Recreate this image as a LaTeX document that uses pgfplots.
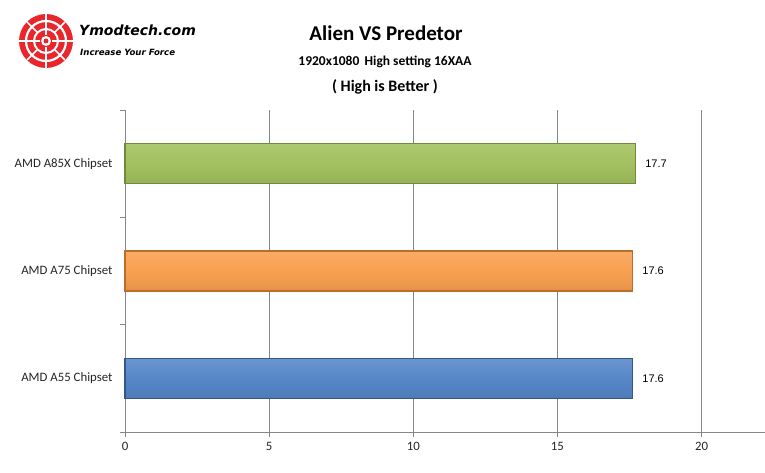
\documentclass[border=0pt]{standalone}
\usepackage{pgfplots}
\pgfplotsset{compat=1.18}
\usepackage{fontspec}
\setmainfont{Carlito}
\newfontfamily\valfont{Liberation Sans}
\newfontfamily\logofont{DejaVu Sans}
\definecolor{gA}{HTML}{A2C15E}
\definecolor{gAd}{HTML}{6E8A3A}
\definecolor{oA}{HTML}{F9A050}
\definecolor{oAd}{HTML}{B86F2E}
\definecolor{bA}{HTML}{5687C8}
\definecolor{bAd}{HTML}{34578A}
\definecolor{axg}{HTML}{868686}
\definecolor{logored}{HTML}{E8262B}
\begin{document}
\begin{tikzpicture}
\path[use as bounding box] (0pt,0pt) rectangle (765pt,472pt);
\fill[white] (0pt,0pt) rectangle (765pt,472pt);
% logo
\begin{scope}[shift={(46pt,431pt)}]
\fill[logored] (0pt,0pt) circle (27pt);
\draw[white,line width=2.2pt] (0pt,0pt) circle (20pt);
\draw[white,line width=2pt] (0pt,0pt) circle (12pt);
\fill[white] (0pt,0pt) circle (5pt);
\draw[white,line width=2pt] (-27pt,0pt)--(-6pt,0pt) (6pt,0pt)--(27pt,0pt) (0pt,-27pt)--(0pt,-6pt) (0pt,6pt)--(0pt,27pt);
\draw[white,line width=1.5pt] (-19pt,-19pt)--(-9pt,-9pt) (9pt,9pt)--(19pt,19pt) (-19pt,19pt)--(-9pt,9pt) (9pt,-9pt)--(19pt,-19pt);
\fill[logored] (0pt,0pt) circle (2.5pt);
\end{scope}
\node[anchor=west,inner sep=0] at (79pt,442pt) {\logofont\bfseries\itshape\fontsize{14}{16}\selectfont Ymodtech.com};
\node[anchor=west,inner sep=0] at (80pt,420pt) {\logofont\bfseries\itshape\fontsize{8.6}{10}\selectfont Increase Your Force};
% titles
\node[inner sep=0] at (386pt,439pt) {\bfseries\fontsize{21}{24}\selectfont Alien VS Predetor};
\node[inner sep=0] at (385pt,410pt) {\bfseries\fontsize{13.5}{16}\selectfont 1920x1080\, High setting 16XAA};
\node[inner sep=0] at (385pt,385pt) {\bfseries\fontsize{16}{18}\selectfont ( High is Better )};
\begin{axis}[
  at={(125pt,40pt)}, anchor=south west,
  scale only axis, width=640pt, height=322pt,
  xbar, bar width=40pt,
  xmin=0, xmax=22.2, ymin=0.5, ymax=3.5,
  axis x line*=bottom, axis y line*=left,
  axis line style={axg, line width=0.9pt, -},
  xtick={0,5,10,15,20},
  xmajorgrids, grid style={axg, line width=0.9pt},
  ytick={0.5,1.5,2.5,3.5},
  yticklabels={},
  extra y ticks={1,2,3},
  extra y tick labels={AMD A55 Chipset, AMD A75 Chipset, AMD A85X Chipset},
  extra y tick style={tick style={draw=none}, grid=none},
  tick style={axg, line width=0.9pt},
  tick align=outside, major tick length=5pt,
  tick label style={font=\fontsize{12.8}{14}\selectfont, text=black!85},
  /pgf/number format/assume math mode=true,
  yticklabel style={xshift=-4pt},
  xticklabel style={yshift=-2pt},
  nodes near coords,
  every node near coord/.append style={font=\valfont\fontsize{11}{12}\selectfont, xshift=6pt, text=black},
  clip=false,
]
\addplot[top color=bA!88!white, bottom color=bA!92!black, middle color=bA, draw=bAd, line width=1.4pt, bar shift=0pt] coordinates {(17.6,1)};
\addplot[top color=oA!88!white, bottom color=oA!92!black, middle color=oA, draw=oAd, line width=1.4pt, bar shift=0pt] coordinates {(17.6,2)};
\addplot[top color=gA!88!white, bottom color=gA!92!black, middle color=gA, draw=gAd, line width=1.4pt, bar shift=0pt] coordinates {(17.7,3)};
\end{axis}
\end{tikzpicture}
\end{document}
